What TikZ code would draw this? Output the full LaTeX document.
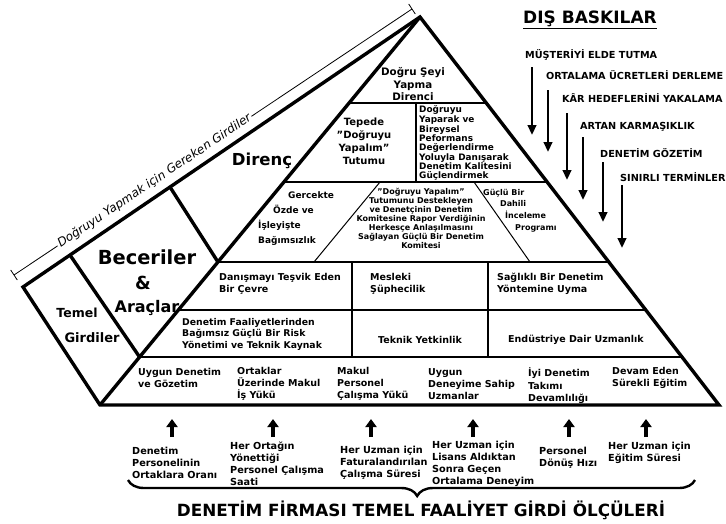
\documentclass[tikz,border=0pt]{standalone}
\usepackage{fontspec}
\setmainfont{DejaVu Sans}[ItalicFont={DejaVu Sans Oblique},BoldFont={DejaVu Sans Bold},BoldItalicFont={DejaVu Sans Bold Oblique}]
\usetikzlibrary{arrows.meta,decorations.pathreplacing,calc}

\newcommand\fsb[2]{\fontsize{#1}{#2}\selectfont\bfseries}

\begin{document}
\begin{tikzpicture}[x=1pt,y=-1pt,
  outer/.style={line width=3.4pt,line join=miter},
  band/.style={line width=2.8pt},
  mid/.style={line width=1.7pt},
  fine/.style={line width=1pt},
  txt/.style={inner sep=0pt,align=left,anchor=west},
  ctxt/.style={inner sep=0pt,align=center,anchor=center},
  downarrow/.style={line width=2.6pt,-{Triangle[length=10pt,width=8.5pt]}},
  uparrow/.style={line width=4pt,-{Triangle[length=8pt,width=11pt]}},
]
\useasboundingbox (0,0) rectangle (726,523);
\fill[white] (0,0) rectangle (726,523);

% ---- main corner points ----
\coordinate (A)  at (420,17);   % apex
\coordinate (L)  at (23,287);   % far end of the left face
\coordinate (BL) at (100,405);
\coordinate (BR) at (719,405);

% points on the front-left and right edges at each row boundary
\foreach \n/\f in {103/0.2216,182/0.4253,262/0.6314,310/0.7552,357/0.8763}{
  \coordinate (l\n) at ($(A)!\f!(BL)$);
  \coordinate (r\n) at ($(A)!\f!(BR)$);
}
% points on the ridge of the left face
\coordinate (q1) at ($(A)!0.8816!(L)$);
\coordinate (q2) at ($(A)!0.6297!(L)$);

% ---- dimension line along the ridge ----
\coordinate (d1) at (14,275);
\coordinate (d2) at (412,9);
\draw[line width=0.8pt] (d1) -- (d2);
\draw[line width=0.8pt] ($(d1)+(-3.3,-5)$) -- ($(d1)+(3.3,5)$);
\draw[line width=0.8pt] ($(d2)+(-3.3,-5)$) -- ($(d2)+(3.3,5)$);
\node (dimtext) [fill=white,inner sep=1.5pt,rotate=33.7,font=\fontsize{12}{12}\selectfont\itshape]
  at (154.5,181) {Doğruyu Yapmak için Gereken Girdiler};

% ---- interior lines of the front face ----
\draw[mid] (l103) -- (r103);
\draw[mid] (416,103) -- (416,182);
\draw[mid] (l182) -- (r182);
\draw[fine] (380,182) -- (314,262);
\draw[fine] (474,182) -- (530,262);
\draw[band] (l262) -- (r262);
\draw[line width=1.3pt] (l310) -- (r310);
\draw[mid] (352,262) -- (352,357);
\draw[mid] (488,262) -- (488,357);
\draw[band] (l357) -- (r357);

% ---- left face dividers ----
\draw[outer] (q1) -- (l357);
\draw[outer] (q2) -- (l262);

% ---- outline ----
\draw[outer] (L) -- (A) -- (BR) -- (BL) -- cycle;
\draw[outer] (A) -- (BL);

% ---- left face labels ----
\node (temel) [ctxt,font=\fsb{12.5}{15}] at (77,313) {Temel};
\node (girdiler) [ctxt,font=\fsb{13}{15}] at (92,338) {Girdiler};
\node (beceriler) [ctxt,font=\fsb{19.4}{22}] at (147,257) {Beceriler};
\node (amp) [ctxt,font=\fsb{18}{20}] at (143,283) {\&};
\node (araclar) [ctxt,font=\fsb{16}{18}] at (147,308) {Araçlar};
\node (direnc) [ctxt,font=\fsb{16.5}{18}] at (262,161) {Direnç};

% ---- front face texts ----
\node (top) [ctxt,font=\fsb{10.3}{12.5}] at (413,84.5) {Doğru Şeyi\\Yapma\\Direnci};
\node (tepede) [ctxt,font=\fsb{10}{13}] at (364,141.5) {Tepede\\"Doğruyu\\Yapalım"\\Tutumu};
\node (kalite) [txt,font=\fsb{8.9}{8.6}] at (419,143) {Doğruyu\\Yaparak ve\\Bireysel\\Peformans\\Değerlendirme\\Yoluyla Danışarak\\Denetim Kalitesini\\Güçlendirmek};
\node (bagimsiz) [txt,font=\fsb{9}{15.3}] at (258,218.5) {\hspace*{30pt}Gercekte\\\hspace*{15pt}Özde ve\\İşleyişte\\Bağımsızlık};
\node (komite) [ctxt,font=\fsb{8}{9}] at (421,218.5) {"Doğruyu Yapalım"\\Tutumunu Destekleyen\\ve Denetçinin Denetim\\Komitesine Rapor Verdiğinin\\Herkesçe Anlaşılmasını\\Sağlayan Güçlü Bir Denetim\\Komitesi};
\node (dahili) [txt,font=\fsb{8}{11.7}] at (483,210.5) {Güçlü Bir\\\hspace*{17pt}Dahili\\\hspace*{22pt}İnceleme\\\hspace*{32pt}Programı};

\node (danisma) [txt,font=\fsb{9.5}{12}] at (219,283.5) {Danışmayı Teşvik Eden\\Bir Çevre};
\node (mesleki) [txt,font=\fsb{9.5}{12}] at (370,283.5) {Mesleki\\Şüphecilik};
\node (saglikli) [txt,font=\fsb{9.5}{12}] at (497,283.5) {Sağlıklı Bir Denetim\\Yöntemine Uyma};

\node (risk) [txt,font=\fsb{9.3}{11.5}] at (182,334) {Denetim Faaliyetlerinden\\Bağımsız Güçlü Bir Risk\\Yönetimi ve Teknik Kaynak};
\node (teknik) [ctxt,font=\fsb{9.5}{12}] at (420,339.5) {Teknik Yetkinlik};
\node (endustri) [ctxt,font=\fsb{9.5}{12}] at (576,339.5) {Endüstriye Dair Uzmanlık};

\node (b1) [txt,font=\fsb{9.5}{12}] at (138,378) {Uygun Denetim\\ve Gözetim};
\node (b2) [txt,font=\fsb{9.5}{12}] at (237,384) {Ortaklar\\Üzerinde Makul\\İş Yükü};
\node (b3) [txt,font=\fsb{9.5}{12}] at (337,384) {Makul\\Personel\\Çalışma Yükü};
\node (b4) [txt,font=\fsb{9.5}{12}] at (428,384) {Uygun\\Deneyime Sahip\\Uzmanlar};
\node (b5) [txt,font=\fsb{9.5}{12.5}] at (528,386) {İyi Denetim\\Takımı\\Devamlılığı};
\node (b6) [txt,font=\fsb{9.5}{12.5}] at (612,378) {Devam Eden\\Sürekli Eğitim};

% ---- input measures below the pyramid ----
\node (m1) [txt,font=\fsb{9.7}{12}] at (132,463) {Denetim\\Personelinin\\Ortaklara Oranı};
\node (m2) [txt,font=\fsb{9.7}{12}] at (230,464) {Her Ortağın\\Yönettiği\\Personel Çalışma\\Saati};
\node (m3) [txt,font=\fsb{9.7}{12}] at (340,463) {Her Uzman için\\Faturalandırılan\\Çalışma Süresi};
\node (m4) [txt,font=\fsb{9.7}{12}] at (432,464) {Her Uzman için\\Lisans Aldıktan\\Sonra Geçen\\Ortalama Deneyim};
\node (m5) [txt,font=\fsb{9.7}{12}] at (539,458) {Personel\\Dönüş Hızı};
\node (m6) [txt,font=\fsb{9.7}{12}] at (608,453) {Her Uzman için\\Eğitim Süresi};

\foreach \i/\x in {1/172,2/273,3/371,4/473,5/569,6/646}{
  \coordinate (ua\i) at (\x,437);
  \coordinate (ub\i) at (\x,419);
  \draw[uparrow] (ua\i) -- (ub\i);
}

\coordinate (brl) at (128,480);
\coordinate (brr) at (695,480);
\draw[line width=2.4pt,decorate,decoration={brace,mirror,amplitude=16pt,aspect=0.51}] (brl) -- (brr);
\node (title) [ctxt,font=\fsb{16.8}{20}] at (421,510) {DENETİM FİRMASI TEMEL FAALİYET GİRDİ ÖLÇÜLERİ};

% ---- external pressures ----
\node (dis) [ctxt,font=\fsb{17}{20}] at (590,20) {\underline{DIŞ BASKILAR}};
\node (p1) [txt,font=\fsb{9.7}{12}] at (525,55) {MÜŞTERİYİ ELDE TUTMA};
\node (p2) [txt,font=\fsb{9.7}{12}] at (546,75) {ORTALAMA ÜCRETLERİ DERLEME};
\node (p3) [txt,font=\fsb{9.7}{12}] at (562,98) {KÂR HEDEFLERİNİ YAKALAMA};
\node (p4) [txt,font=\fsb{9.7}{12}] at (580,127) {ARTAN KARMAŞIKLIK};
\node (p5) [txt,font=\fsb{9.7}{12}] at (600,153) {DENETİM GÖZETİM};
\node (p6) [txt,font=\fsb{9.7}{12}] at (620,177) {SINIRLI TERMİNLER};

\foreach \i/\x/\ya/\yb in {1/532/67/135,2/548/90/152,3/567/113/180,4/583/137/200,5/603/162/222,6/622/185/248}{
  \coordinate (pa\i) at (\x,\ya);
  \coordinate (pb\i) at (\x,\yb);
  \draw[downarrow] (pa\i) -- (pb\i);
}
\end{tikzpicture}
\end{document}
